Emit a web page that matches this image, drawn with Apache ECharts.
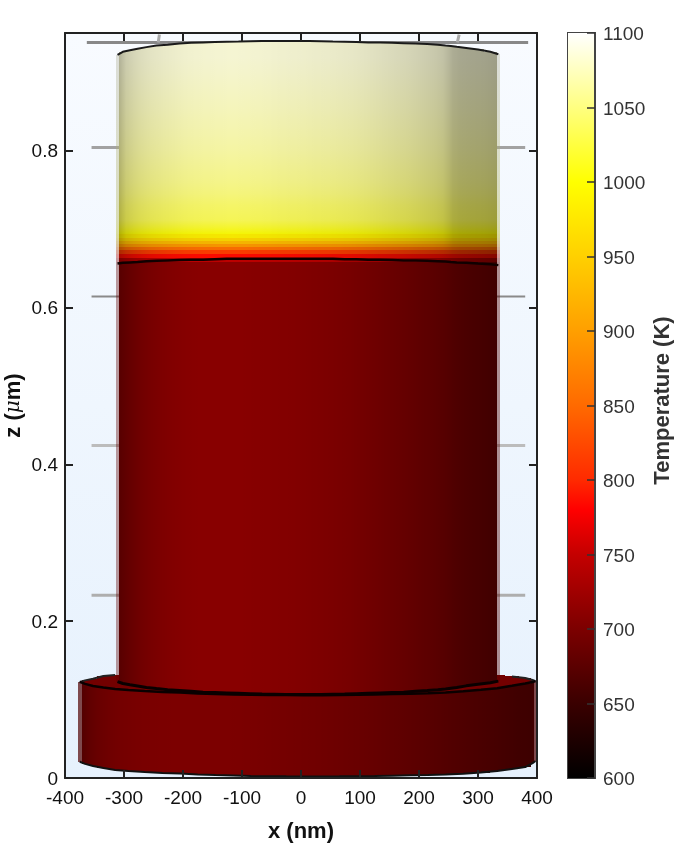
<!DOCTYPE html>
<html><head><meta charset="utf-8">
<style>html,body{margin:0;padding:0;background:#fff}#c{width:681px;height:862px}</style>
<script src="https://cdn.jsdelivr.net/npm/echarts@6/dist/echarts.min.js"></script>
</head><body><div id="c"></div>
<script>
// ---- colour scale (K -> colour) ----
const scaleTemps  = [600,650,700,750,780,800,850,900,950,1000,1050,1100];
const scaleColors = ['#000000','#3a0000','#7c0000','#c40000','#ff0000','#ff2a00','#ff6a00','#ff9f00','#ffd000','#ffff00','#ffff80','#ffffff'];
// ---- main cylinder: columns in x (nm), rows in z (um) ----
const cylEdges = [-314,-308,-296,-284,-270,-254,-236,-216,-196,-176,-156,-136,-116,-96,-76,-56,-36,-16,4,24,44,64,84,104,124,144,164,184,204,224,240,250,258,270,290,310,332,337];
const cylShadeHot  = [.60,.78,.81,.85,.88,.90,.92,.935,.945,.95,.955,.96,.96,.955,.95,.945,.94,.935,.93,.925,.92,.91,.90,.885,.87,.855,.84,.82,.80,.78,.74,.69,.66,.65,.64,.63,.60];
const cylShadeCool = [.60,.68,.74,.80,.86,.90,.94,.97,.99,1,1,1,1,.99,.98,.97,.96,.95,.93,.92,.90,.88,.86,.83,.80,.77,.74,.71,.68,.65,.62,.60,.58,.55,.52,.49,.45];
const cylTopZ = [.922,.926,.928,.930,.932,.934,.935,.9365,.9375,.938,.9385,.939,.9392,.9395,.9397,.9397,.9397,.9397,.9397,.9395,.9392,.939,.9385,.938,.938,.9375,.937,.9365,.936,.935,.934,.9335,.9325,.931,.929,.926,.923];
const cylBottomZ = [.123,.1205,.119,.1174,.1155,.114,.1125,.1115,.1105,.1095,.109,.1085,.108,.1075,.107,.1068,.1065,.1065,.1065,.1065,.1068,.107,.1075,.108,.1085,.109,.1095,.1105,.1115,.1125,.1135,.1145,.1155,.1175,.1195,.1215,.1235];
const interfaceZ = [.656,.657,.6575,.658,.659,.6595,.66,.6605,.661,.661,.6615,.662,.662,.662,.662,.662,.662,.662,.662,.662,.662,.6615,.6615,.661,.661,.6605,.66,.66,.6595,.659,.6585,.658,.6575,.657,.656,.655,.654];
const rowZ = [.10,.658,.663,.6686,.673,.6776,.681,.685,.689,.694,.702,.712,.731,.745,.76,.78,.80,.83,.86,.89,.92,.95];
const rowTemps = [708,745,785,815,855,895,930,960,985,1002,1020,1035,1042,1050,1056,1061,1066,1072,1077,1082,1086];
// ---- base disc ----
const discEdges = [-378,-372,-360,-345,-325,-305,-280,-250,-220,-190,-160,-130,-100,-70,-40,-10,20,50,80,110,140,170,200,230,260,290,320,345,370,390,395,400];
const discShade = [.6,.74,.80,.87,.92,.95,.98,.99,1,1,1,1,.98,.96,.94,.92,.90,.87,.85,.81,.78,.75,.71,.67,.63,.59,.56,.53,.50,.50,.6];
const discFrontZ = [.1225,.120,.1174,.1155,.1136,.1123,.111,.1097,.109,.1078,.1072,.1065,.106,.1058,.1057,.1056,.1056,.1058,.106,.1065,.107,.1075,.108,.109,.1105,.1125,.1145,.1175,.1205,.1225,.1235];
const discBottomZ = [.0207,.018,.0153,.0128,.0102,.009,.0077,.0064,.0057,.0045,.0038,.0032,.0026,.0023,.0021,.002,.002,.0021,.0023,.0026,.003,.0034,.0038,.0045,.0055,.007,.009,.0115,.014,.019,.0217];
const discBackZ = [.1225,.1245,.1265,.130,.1314,.132,.133,.134,.134,.134,.134,.134,.134,.134,.134,.134,.134,.134,.134,.134,.134,.134,.134,.134,.134,.133,.131,.1295,.1276,.125,.1235];
const discTemp = 700;
// ---- grey guide marks behind the cylinder ----
const guideLevels = [.804,.614,.424,.233];
const guideLeftX = -355, guideRightX = 380;
const topGuide = [[-363,.938],[385,.938]];
const topStubs = [[-242,.938],[-240,.948],null,[265,.938],[268,.948]];
// ---- ticks & text ----
const xTickRange = [-400,400,100];
const zTickRange = [0,.95,.2];
const tempTickRange = [600,1100,50];
const xTitle = 'x (nm)';
const zTitle = 'z ({m|\u03bc}m)';
const tempTitle = 'Temperature (K)';

const FONT = '"Liberation Sans", Arial, sans-serif';
const rgbStops = scaleColors.map(h => [1,3,5].map(i => parseInt(h.substr(i,2),16)));
function tempRGB(T){
  let i = 0;
  while (i < scaleTemps.length-2 && T > scaleTemps[i+1]) i++;
  const f = Math.max(0,Math.min(1,(T-scaleTemps[i])/(scaleTemps[i+1]-scaleTemps[i])));
  return rgbStops[i].map((c,k)=>c+(rgbStops[i+1][k]-c)*f);
}
function cellColor(T){ return 'rgb('+tempRGB(T).map(Math.round).join(',')+')'; }
function mids(e){ return e.slice(1).map((v,i)=>(v+e[i])/2); }
const cylMid = mids(cylEdges), discMid = mids(discEdges);
// shade at a column's left/right border = mean of the two neighbouring columns
function borderShade(arr,c,side){ const n=c+side; return (n<0||n>=arr.length)?arr[c]:(arr[c]+arr[n])/2; }

const cylCells = [];
cylShadeHot.forEach((hot,c)=>{
  const pale = (c===0||c===cylShadeHot.length-1);
  rowTemps.forEach((T,r)=>{
    const z0 = Math.max(rowZ[r],cylBottomZ[c]), z1 = Math.min(rowZ[r+1],cylTopZ[c]);
    if (z1<=z0) return;
    const w = Math.max(0,Math.min(1,(T-720)/180));
    const mix = (side)=> pale ? cylShadeCool[c]+(hot-cylShadeCool[c])*w
      : borderShade(cylShadeCool,c,side)+(borderShade(cylShadeHot,c,side)-borderShade(cylShadeCool,c,side))*w;
    const next = (T>=1000 && r+1<rowTemps.length) ? rowTemps[r+1] : T;
    cylCells.push([cylEdges[c],cylEdges[c+1],z0,z1,T,mix(-1),mix(1),pale?0.3:1,next]);
  });
});
const discCells = discShade.map((s,c)=>{
  const pale = (c===0||c===discShade.length-1);
  return [discEdges[c],discEdges[c+1],discBottomZ[c],discFrontZ[c],discTemp,
    pale?s:borderShade(discShade,c,-1),pale?s:borderShade(discShade,c,1),pale?0.6:1,discTemp];
});
const rimCells = [];
discBackZ.forEach((z,c)=>{ if(z>discFrontZ[c]) rimCells.push([discEdges[c],discEdges[c+1],discFrontZ[c],z,735,.66,.66,1,735]); });

function renderCell(params,api){
  const a = api.coord([api.value(0),api.value(3)]);
  const b = api.coord([api.value(1),api.value(2)]);
  const x = Math.round(a[0]), y = Math.round(a[1]);
  const w = Math.round(b[0])-x, h = Math.round(b[1])-y;
  const T = api.value(4), sL = api.value(5), sR = api.value(6), op = api.value(7), Tn = api.value(8);
  const base = (Tn===T) ? cellColor(T) :
    {type:'linear',x:0,y:1,x2:0,y2:0,colorStops:[{offset:0,color:cellColor(T)},{offset:1,color:cellColor(Tn)}]};
  const dark = {type:'linear',x:0,y:0,x2:1,y2:0,colorStops:[
    {offset:0,color:'rgba(0,0,0,'+(1-sL).toFixed(3)+')'},{offset:1,color:'rgba(0,0,0,'+(1-sR).toFixed(3)+')'}]};
  return {type:'group',children:[
    {type:'rect',shape:{x:x,y:y,width:w,height:h},style:{fill:base,opacity:op}},
    {type:'rect',shape:{x:x,y:y,width:w,height:h},style:{fill:dark,opacity:op}}
  ]};
}
function cellSeries(data,z){
  return {type:'custom',data:data,renderItem:renderCell,xAxisIndex:0,yAxisIndex:0,clip:true,z:z,silent:true,
    encode:{x:[0,1],y:[2,3]},animation:false};
}
function lineSeries(data,color,width,z){
  return {type:'line',data:data,xAxisIndex:0,yAxisIndex:0,showSymbol:false,silent:true,z:z,clip:true,animation:false,
    connectNulls:false,lineStyle:{color:color,width:width,cap:'butt'}};
}
function zip(x,z){ return x.map((v,i)=>[v,z[i]]); }
function breakNulls(pts){ return pts.map(p=>p===null?[null,null]:p); }

const guideStyles = [['#a2a2a2',3],['#8a8a8a',2],['#bcbcbc',3],['#aeaeae',3]];
const guideSeries = guideLevels.map((z,i)=>lineSeries(
  [[guideLeftX,z],[0,z],[guideRightX,z]],guideStyles[i][0],guideStyles[i][1],2));

const backRim = discBackZ.map((z,c)=>(discMid[c]>-310&&discMid[c]<334)?[null,null]:[discMid[c],z]);

const stops = scaleTemps.map((T,i)=>({offset:(T-600)/500,color:scaleColors[i]}));

const baseAxis = {axisLine:{show:true,onZero:false,lineStyle:{color:'#222',width:2}},
  axisTick:{show:true,inside:true,length:8,lineStyle:{color:'#222',width:2}},
  splitLine:{show:false},z:6};
const lbl = {color:'#111',fontFamily:FONT,fontSize:19};

const option = {
  animation:false,
  backgroundColor:'#fff',
  grid:[
    {left:65,top:33,width:472,height:745,show:true,borderWidth:0,outerBoundsMode:'none',containLabel:false,
     backgroundColor:{type:'linear',x:0,y:0,x2:0,y2:1,colorStops:[{offset:0,color:'#f8fbff'},{offset:1,color:'#e6f1fd'}]}},
    {left:568,top:33,width:27,height:745,show:true,borderColor:'#444',borderWidth:2,outerBoundsMode:'none',containLabel:false,backgroundColor:'transparent'}
  ],
  xAxis:[
    Object.assign({},baseAxis,{type:'value',gridIndex:0,position:'bottom',min:xTickRange[0],max:xTickRange[1],interval:xTickRange[2],
      axisLabel:Object.assign({margin:11},lbl),name:xTitle,nameLocation:'middle',nameGap:43,nameMoveOverlap:false,
      nameTextStyle:{color:'#111',fontFamily:FONT,fontSize:22,fontWeight:'bold'}}),
    Object.assign({},baseAxis,{type:'value',gridIndex:0,position:'top',min:xTickRange[0],max:xTickRange[1],interval:xTickRange[2],axisLabel:{show:false}}),
    {type:'value',gridIndex:1,min:0,max:1,show:false}
  ],
  yAxis:[
    Object.assign({},baseAxis,{type:'value',gridIndex:0,position:'left',min:zTickRange[0],max:zTickRange[1],interval:zTickRange[2],
      axisLabel:Object.assign({margin:7,showMaxLabel:false,formatter:v=>String(v),verticalAlign:'top',lineHeight:3},lbl),name:zTitle,nameLocation:'middle',nameGap:40,nameMoveOverlap:false,
      nameTextStyle:{color:'#111',fontFamily:FONT,fontSize:22,fontWeight:'bold',
        rich:{m:{fontFamily:'"DejaVu Serif", serif',fontStyle:'italic',fontSize:20,fontWeight:'normal',color:'#111'}}}}),
    Object.assign({},baseAxis,{type:'value',gridIndex:0,position:'right',min:zTickRange[0],max:zTickRange[1],interval:zTickRange[2],axisLabel:{show:false}}),
    {type:'value',gridIndex:1,position:'right',min:tempTickRange[0],max:tempTickRange[1],interval:tempTickRange[2],z:6,
      axisLine:{show:true,onZero:false,lineStyle:{color:'#444',width:2}},
      axisTick:{show:true,inside:true,length:8,lineStyle:{color:'#333',width:1.5}},
      splitLine:{show:false},
      axisLabel:{color:'#333',fontFamily:FONT,fontSize:19,margin:8,formatter:v=>String(v),verticalAlign:'top',lineHeight:4},
      name:tempTitle,nameLocation:'middle',nameGap:57,nameMoveOverlap:false,
      nameTextStyle:{color:'#333',fontFamily:FONT,fontSize:22,fontWeight:'bold',padding:[0,0,0,10]}}
  ],
  series:[
    ...guideSeries,
    lineSeries(topGuide,'#888',3,2),
    lineSeries(breakNulls(topStubs),'#aaa',3,2),
    cellSeries(rimCells,3),
    lineSeries(backRim,'#222',2,3),
    cellSeries(discCells,3),
    lineSeries(zip(discMid,discFrontZ),'#0a0000',2.5,3),
    lineSeries(zip(discMid,discBottomZ),'#111',2,3),
    cellSeries(cylCells,4),
    lineSeries(zip(cylMid,cylBottomZ),'#0a0000',3,4),
    lineSeries(zip(cylMid,interfaceZ),'#100000',2.5,4),
    lineSeries(zip(cylMid,cylTopZ),'#1a1a1a',2,4),
    {type:'custom',xAxisIndex:2,yAxisIndex:2,data:[[0,1,tempTickRange[0],tempTickRange[1]]],silent:true,z:2,animation:false,
     encode:{x:[0,1],y:[2,3]},
     renderItem:function(p,api){
       const a=api.coord([api.value(0),api.value(3)]), b=api.coord([api.value(1),api.value(2)]);
       return {type:'rect',shape:{x:a[0],y:a[1],width:b[0]-a[0],height:b[1]-a[1]},
         style:{fill:{type:'linear',x:0,y:1,x2:0,y2:0,colorStops:stops}}};
     }}
  ]
};
const chart = echarts.init(document.getElementById('c'),null,{renderer:'canvas'});
chart.setOption(option);
</script></body></html>
